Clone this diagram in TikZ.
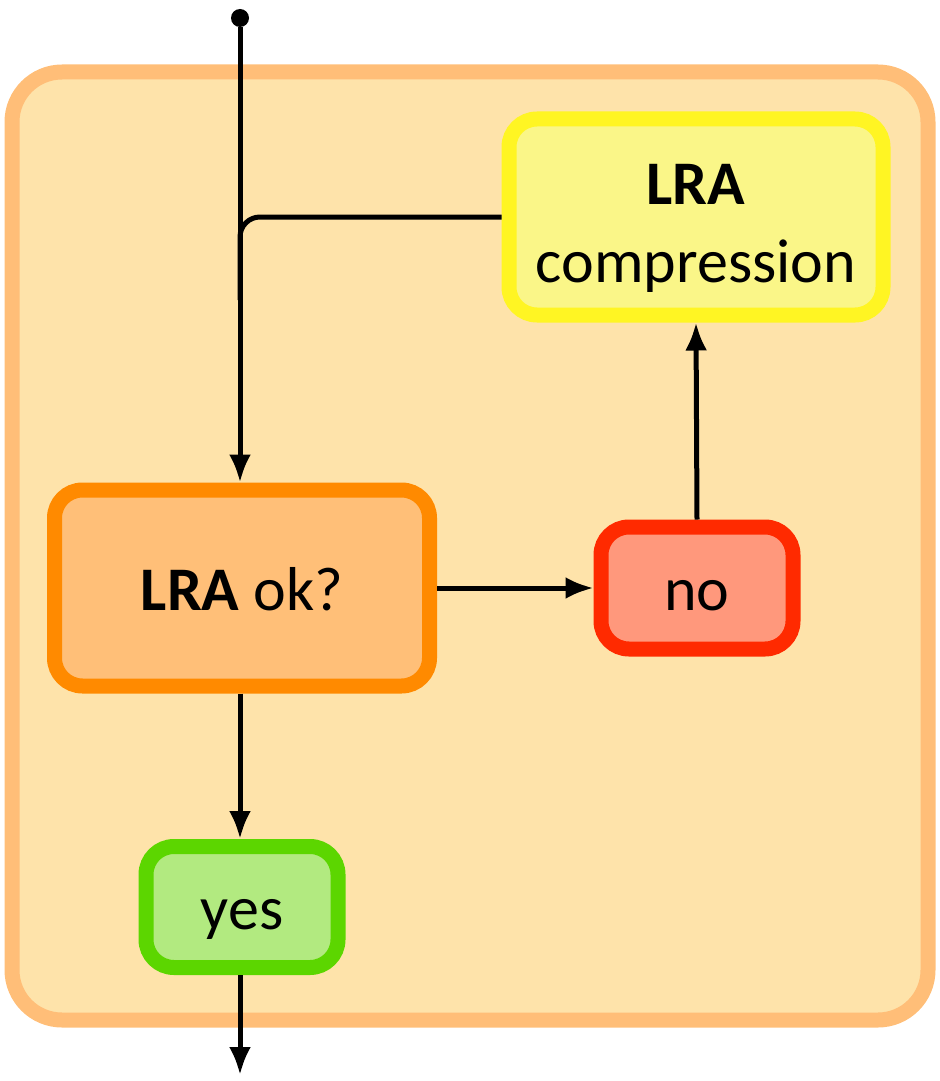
\documentclass[tikz,border=0pt]{standalone}
\usepackage{fontspec}
\setmainfont{Carlito}
\usetikzlibrary{arrows.meta}
\definecolor{boxfill}{HTML}{FEE3AA}
\definecolor{boxline}{HTML}{FFBE78}
\definecolor{compline}{HTML}{FFF523}
\definecolor{compfill}{HTML}{FAF688}
\definecolor{okline}{HTML}{FF8A00}
\definecolor{okfill}{HTML}{FFBF78}
\definecolor{noline}{HTML}{FF2A00}
\definecolor{nofill}{HTML}{FF987C}
\definecolor{yesline}{HTML}{5CD600}
\definecolor{yesfill}{HTML}{B2EA80}
\tikzstyle{block}=[draw, line width=7.5pt, rounded corners=14pt, align=center, font=\fontsize{31}{39}\selectfont]
\tikzstyle{oneline}=[text height=22pt, text depth=0pt]
\tikzstyle{wire}=[line width=2.5pt]

\begin{document}
\begin{tikzpicture}[x=0.5pt,y=-0.5pt,>={Latex[length=14pt,width=11pt]}]
\useasboundingbox (0,0) rectangle (940,1081);
\draw [fill=boxfill, draw=boxline, line width=7.5pt, rounded corners=25pt] (12,72) rectangle (928,1020);
\node [block, draw=compline, fill=compfill, minimum width=187pt, minimum height=98pt] (comp) at (696,217) {\rule{0pt}{31pt}\textbf{LRA}\\compression};
\node [block, oneline, draw=okline, fill=okfill, minimum width=187.5pt, minimum height=98pt] (ok) at (242,588) {\textbf{LRA} ok?};
\node [block, oneline, draw=noline, fill=nofill, minimum width=96pt, minimum height=61pt] (no) at (697,588) {no};
\node [block, oneline, draw=yesline, fill=yesfill, minimum width=96pt, minimum height=60.5pt] (yes) at (242,907) {yes};
\node [circle, fill=black, inner sep=0pt, minimum size=9pt] (start) at (240,18) {};
\coordinate (join) at (240,300);
\coordinate (end) at (240,1075);
\draw [wire,->] (start) -- (start |- ok.north);
\draw [wire, rounded corners=10pt] (comp.west) -| (join);
\draw [wire,->] (ok.east) -- (no.west);
\draw [wire,->] (no.north) -- (comp.south);
\draw [wire,->] (ok.south -| start) -- (yes.north -| start);
\draw [wire,->] (yes.south -| start) -- (end);
\end{tikzpicture}
\end{document}
